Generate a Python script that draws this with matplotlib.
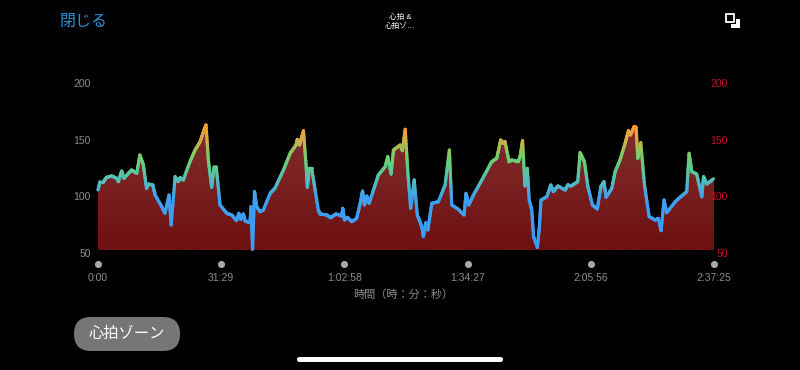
import numpy as np
import matplotlib
matplotlib.use('Agg')
import matplotlib.pyplot as plt
from matplotlib.collections import LineCollection
from matplotlib.colors import LinearSegmentedColormap
from matplotlib.patches import FancyBboxPatch, PathPatch, Polygon, Rectangle
from matplotlib.path import Path

plt.rcParams['font.family'] = ['Liberation Sans', 'Noto Sans CJK JP']

# minutes from start / heart rate
minutes = [0, 0.5, 1.4, 2.2, 3.5, 4.8, 5.2, 6.05, 6.65, 7.75, 8.6, 9.9, 10.7, 11.6, 12.4, 12.9, 14.0, 14.6,
           16.3, 17.1, 18.15, 18.7, 19.7, 20.5, 21.0, 21.8, 23.5, 24.8, 26.1, 27.1, 27.6, 28.2, 29.05, 29.65,
           30.2, 31.2, 32.9, 34.2, 35.4, 36.0, 36.5, 37.15, 37.6, 38.85, 39.1, 39.5, 40.0, 40.55, 41.4, 42.25,
           44.0, 45.2, 47.4, 49.1, 50.6, 50.95, 51.5, 52.5, 53.2, 53.5, 54.0, 54.6, 56.3, 56.75, 58.45, 59.5,
           60.8, 62.3, 62.55, 63.0, 63.75, 64.85, 66.1, 67.0, 67.6, 68.1, 68.7, 69.3, 70.4, 71.65, 73.4, 74.05,
           74.9, 75.5, 77.2, 77.8, 78.5, 79.2, 79.9, 80.8, 81.6, 82.75, 83.15, 83.75, 84.3, 85.3, 87.0, 88.7,
           89.8, 90.4, 92.1, 93.55, 94.05, 94.75, 95.95, 98.1, 100.6, 101.9, 102.9, 103.6, 104.0, 105.05, 105.7,
           107.4, 107.9, 108.5, 109.1, 109.7, 110.2, 110.85, 111.3, 112.3, 112.8, 113.2, 114.7, 115.7, 116.4,
           117.5, 119.4, 120.05, 120.9, 122.6, 123.2, 124.3, 125.2, 126.35, 127.6, 128.5, 129.3, 129.85, 131.3,
           132.15, 133.4, 134.7, 135.55, 136.1, 137.0, 137.5, 137.95, 138.7, 139.65, 140.85, 142.35, 143.2,
           143.9, 144.65, 145.35, 147.5, 148.75, 150.45, 151.05, 151.75, 153.0, 154.3, 154.75, 155.6, 157.42]
heart_rate = [102.9, 110.3, 110.3, 114.1, 115.3, 113.2, 110.3, 119.7, 113.2, 117.6, 120.6, 117.6, 133.8, 125, 104.4,
              108.2, 107.4, 98.5, 88.2, 82.4, 98.5, 72.1, 114.7, 110.3, 113.8, 111.8, 127.9, 138.2, 145.6, 155.9,
              160.3, 129.4, 105.3, 123.5, 123.5, 89.7, 82.4, 80.9, 75.9, 82.4, 77.1, 81.8, 75.6, 74.1, 88.2, 50.6,
              101.5, 88.2, 83.8, 85.3, 100, 104.4, 120.6, 135.3, 142.6, 147.6, 142.6, 155.3, 123.5, 105.3, 122,
              122, 85.3, 81.8, 80.9, 78.5, 81.8, 80, 86.8, 76.5, 78.8, 75, 77.9, 91.2, 102, 89.7, 97.6, 91.2,
              102.9, 116.2, 123.5, 132.4, 117, 138.2, 142.6, 137.6, 156.5, 117.6, 86.8, 111.8, 80.9, 70.6, 61.8,
              74.1, 67.6, 91.2, 92.6, 107.4, 138.2, 89.7, 85.9, 80.9, 100, 89.7, 98.5, 111.8, 127.9, 130.9, 147,
              144, 145.6, 127.9, 129.4, 127.9, 133, 146.5, 106.5, 122, 94.1, 85.3, 61.8, 52.4, 70.6, 94.1, 97,
              107.4, 101.5, 106.5, 102.9, 107.4, 106.5, 110.3, 135.9, 127.9, 105.9, 89.7, 86.2, 105.9, 110.3,
              96.5, 104.4, 119.1, 129.4, 144.1, 155.3, 151.5, 158.8, 158.2, 130.9, 144.7, 107.4, 79.4, 76.5, 77.9,
              67.1, 94.1, 82.9, 92.6, 96.5, 101.5, 135.3, 119.1, 117, 97, 114.7, 108.2, 113.2]

y_ticks = [50, 100, 150, 200]
x_ticks = [0, 31.48, 62.97, 94.45, 125.93, 157.42]
x_labels = ['0:00', '31:29', '1:02:58', '1:34:27', '2:05:56', '2:37:25']

fig = plt.figure(figsize=(8, 3.7), dpi=100, facecolor='black')

# chart area, 98..714 px wide, 80..250 px down
ax = fig.add_axes([98 / 800, 120 / 370, 616 / 800, 170 / 370], facecolor='black')
ax.axis('off')

# area with a vertical red gradient
poly = Polygon(list(zip(minutes, heart_rate)) + [(157.42, 50), (0, 50)], closed=True, transform=ax.transData,
               facecolor='none', edgecolor='none')
ax.add_patch(poly)
red = LinearSegmentedColormap.from_list('red', ['#6c1010', '#7a2020', '#803030'])
img = ax.imshow(np.linspace(0, 1, 100).reshape(-1, 1), cmap=red, origin='lower', aspect='auto',
                extent=[0, 157.42, 50, 165], vmin=0, vmax=1)
img.set_clip_path(poly)
ax.set_xlim(0, 157.42)
ax.set_ylim(50, 200)

# line coloured by heart rate, each stretch cut up only so the colour can change along it
xs, ys = [], []
for i in range(len(minutes) - 1):
    xs.extend(np.linspace(minutes[i], minutes[i + 1], 12, endpoint=False))
    ys.extend(np.linspace(heart_rate[i], heart_rate[i + 1], 12, endpoint=False))
pts = np.column_stack([xs, ys])
segs = np.stack([pts[:-1], pts[1:]], axis=1)
zones = LinearSegmentedColormap.from_list('zones', [(0, '#3a9cf4'), (0.36, '#3f9fee'), (0.5, '#50bcc0'),
                                                    (0.66, '#62ce80'), (0.76, '#80cc60'), (0.88, '#d8ac48'),
                                                    (1, '#fb9a28')])
lc = LineCollection(segs, cmap=zones, linewidths=2.3, capstyle='round', zorder=3)
lc.set_array(pts[:-1, 1])
lc.set_clim(60, 160)
lc.set_clip_on(False)
ax.add_collection(lc)

# axis labels sit below their value
for v in y_ticks:
    ax.annotate(str(v), (0, v), xycoords=('axes fraction', 'data'), xytext=(-7, -4), textcoords='offset pixels',
                ha='right', va='center', color='#8c8c8c', fontsize=7.5)
    ax.annotate(str(v), (1, v), xycoords=('axes fraction', 'data'), xytext=(14, -4), textcoords='offset pixels',
                ha='right', va='center', color='#c80a32', fontsize=7.5)

ax.scatter(x_ticks, [-14 / 170] * len(x_ticks), s=26, color='#a8a8a8', transform=ax.get_xaxis_transform(),
           clip_on=False, linewidths=0)
for t, lab in zip(x_ticks, x_labels):
    ax.annotate(lab, (t, 0), xycoords=('data', 'axes fraction'), xytext=(0, -28), textcoords='offset pixels',
                ha='center', va='center', color='#8c8c8c', fontsize=7.5)

# the app screen around the chart, in pixels
ui = fig.add_axes([0, 0, 1, 1], facecolor='none')
ui.set_xlim(0, 800)
ui.set_ylim(370, 0)
ui.axis('off')

ui.text(403, 295, '時間（時：分：秒）', color='#8c8c8c', fontsize=8, ha='center', va='center')
ui.text(60, 21, '閉じる', color='#2b8fd6', fontsize=11.5, ha='left', va='center')
ui.text(400, 17, '心拍 &', color='white', fontsize=5.5, ha='center', va='center')
ui.text(400, 26, '心拍ゾ…', color='white', fontsize=5.5, ha='center', va='center')

# expand icon
ui.add_patch(Rectangle((726, 14), 7.5, 7.5, fill=False, edgecolor='white', linewidth=1.3))
ui.add_patch(PathPatch(Path([(736, 19), (740, 19), (740, 28), (731, 28), (731, 24), (736, 24), (736, 19)]),
                       facecolor='white', edgecolor='none'))

# button and home bar
ui.add_patch(FancyBboxPatch((74, 317), 106, 34, boxstyle='round,pad=0,rounding_size=17',
                            facecolor='#767676', edgecolor='none'))
ui.text(127, 334, '心拍ゾーン', color='white', fontsize=11, ha='center', va='center')
ui.add_patch(FancyBboxPatch((297, 357), 206, 5, boxstyle='round,pad=0,rounding_size=2.5',
                            facecolor='white', edgecolor='none'))

fig.savefig('out.png', dpi=100, facecolor='black')
